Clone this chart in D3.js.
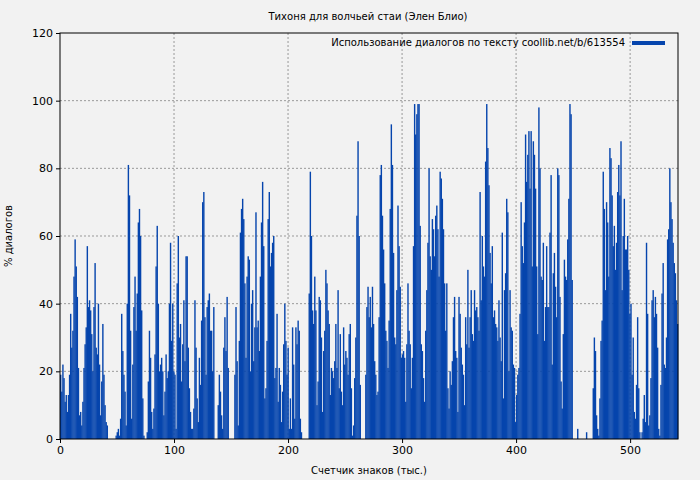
<!DOCTYPE html>
<html><head><meta charset="utf-8">
<script src="https://cdn.jsdelivr.net/npm/d3@7"></script>
<style>body{margin:0;background:#f2f2f2;font-family:"DejaVu Sans",sans-serif}</style>
</head><body><div id="chart"></div>
<script>
const title = 'Тихоня для волчьей стаи (Элен Блио)';
const seriesName = 'Использование диалогов по тексту coollib.net/b/613554';
const xLabel = 'Счетчик знаков (тыс.)';
const yLabel = '% диалогов';
const xTicks = [0, 100, 200, 300, 400, 500];
const yTicks = [0, 20, 40, 60, 80, 100, 120];
const xMax = 542;

// one value per thousand characters
const values = [
  19,14,22,18,11,13,8,13,19,37,27,32,48,59,51,42,21,7,8,4,
  11,21,28,33,57,39,41,38,31,20,39,52,27,25,40,22,7,17,34,19,10,5,4,
  0,0,0,0,0,0,0,1,2,3,1,
  6,37,26,19,14,4,40,81,72,32,6,22,39,48,32,43,64,68,60,38,12,1,0,0,
  2,17,32,24,8,3,9,25,51,63,40,20,22,24,20,7,14,25,18,20,40,58,
  29,40,20,19,3,46,60,30,34,17,28,41,23,54,54,27,15,8,3,3,
  9,41,27,12,5,24,16,35,70,73,36,19,39,41,43,32,32,20,39,0,0,0,
  10,19,14,7,3,27,36,26,42,21,0,0,0,0,0,19,39,23,4,
  29,61,68,71,65,46,24,48,54,53,20,40,44,23,33,67,33,35,26,48,
  64,76,57,12,15,29,65,73,51,55,58,60,18,21,37,11,21,16,5,14,28,
  40,29,19,27,3,12,3,33,22,6,33,28,35,32,6,2,0,0,0,0,0,0,
  43,79,60,38,34,48,38,10,17,42,41,30,8,26,32,50,46,38,34,13,21,20,18,23,
  34,21,44,15,31,14,10,33,22,26,24,19,31,34,15,1,4,18,30,66,88,60,16,0,0,0,0,
  19,39,45,36,42,33,45,34,23,19,13,14,36,78,81,66,56,46,32,29,21,35,
  68,93,81,55,30,28,44,69,57,45,24,25,26,24,11,28,46,32,28,15,24,
  57,99,90,96,99,99,63,28,26,18,11,32,44,58,80,54,50,65,62,54,
  66,69,62,48,79,77,71,62,46,32,46,15,9,20,16,23,36,42,26,24,8,42,37,27,22,
  19,10,36,28,50,27,36,44,31,29,44,38,39,36,32,73,41,60,51,48,82,99,86,75,55,
  46,57,36,38,34,33,29,41,30,23,61,12,44,49,71,67,20,44,33,32,22,21,5,13,19,21,
  37,70,57,52,64,90,76,84,91,74,91,51,88,84,74,51,31,
  98,80,48,47,58,29,39,57,39,39,61,78,22,49,55,45,36,80,78,42,17,9,
  31,53,48,47,59,71,99,96,47,
  0,0,0,0,3,0,0,0,0,0,0,0,2,0,0,0,0,0,
  15,30,26,7,3,1,12,29,35,79,68,44,70,64,48,86,83,72,57,
  63,50,58,73,81,72,88,44,60,71,56,56,60,50,37,40,
  19,30,8,6,16,36,15,2,0,2,6,13,5,
  58,37,4,7,18,41,44,36,42,37,27,3,1,16,43,
  52,22,21,30,59,62,80,70,65,58,52,49,41,34
];

const W = 700, H = 480;
const m = {top: 33, right: 22, bottom: 41, left: 60};

const svg = d3.select('#chart').append('svg')
  .attr('width', W).attr('height', H)
  .style('background', '#f2f2f2');

const x = d3.scaleLinear().domain([0, xMax]).range([m.left, W - m.right]);
const y = d3.scaleLinear().domain([0, 120]).range([H - m.bottom, m.top]);
const step = xMax / values.length;

const g = svg.append('g');

// grid
g.selectAll('line.gx').data(xTicks.slice(1)).enter().append('line')
  .attr('x1', d => x(d)).attr('x2', d => x(d))
  .attr('y1', y(0)).attr('y2', y(120))
  .style('stroke', '#999').style('stroke-dasharray', '2,2');
g.selectAll('line.gy').data(yTicks.slice(1, -1)).enter().append('line')
  .attr('x1', x(0)).attr('x2', x(xMax))
  .attr('y1', d => y(d)).attr('y2', d => y(d))
  .style('stroke', '#999').style('stroke-dasharray', '2,2');

// bars
g.selectAll('rect.bar').data(values).enter().append('rect')
  .attr('x', (d, i) => x(i * step))
  .attr('width', x(step) - x(0) + 0.3)
  .attr('y', d => y(d))
  .attr('height', d => y(0) - y(d))
  .style('fill', '#0645ad');

// frame
svg.append('rect')
  .attr('x', m.left).attr('y', m.top)
  .attr('width', W - m.left - m.right).attr('height', H - m.top - m.bottom)
  .style('fill', 'none').style('stroke', '#000');

const xAxis = svg.append('g')
  .attr('transform', `translate(0,${H - m.bottom})`)
  .call(d3.axisBottom(x).tickValues(xTicks).tickSize(4).tickSizeOuter(0));
const yAxis = svg.append('g')
  .attr('transform', `translate(${m.left},0)`)
  .call(d3.axisLeft(y).tickValues(yTicks).tickSize(4).tickSizeOuter(0));
[xAxis, yAxis].forEach(a => {
  a.select('.domain').remove();
  a.selectAll('text').style('font-size', '11px').style('fill', '#000')
    .style('font-family', '"DejaVu Sans",sans-serif');
});

svg.append('text').attr('x', 368).attr('y', 20).attr('text-anchor', 'middle')
  .style('font-size', '10px').text(title);
svg.append('text').attr('x', 369).attr('y', 474).attr('text-anchor', 'middle')
  .style('font-size', '10px').text(xLabel);
svg.append('text').attr('transform', 'translate(12,236) rotate(-90)')
  .attr('text-anchor', 'middle').style('font-size', '10px').text(yLabel);

// legend
svg.append('text').attr('x', 625).attr('y', 46).attr('text-anchor', 'end')
  .style('font-size', '10px').text(seriesName);
svg.append('rect').attr('x', 632).attr('y', 41).attr('width', 33).attr('height', 4)
  .style('fill', '#0645ad');
</script></body></html>
